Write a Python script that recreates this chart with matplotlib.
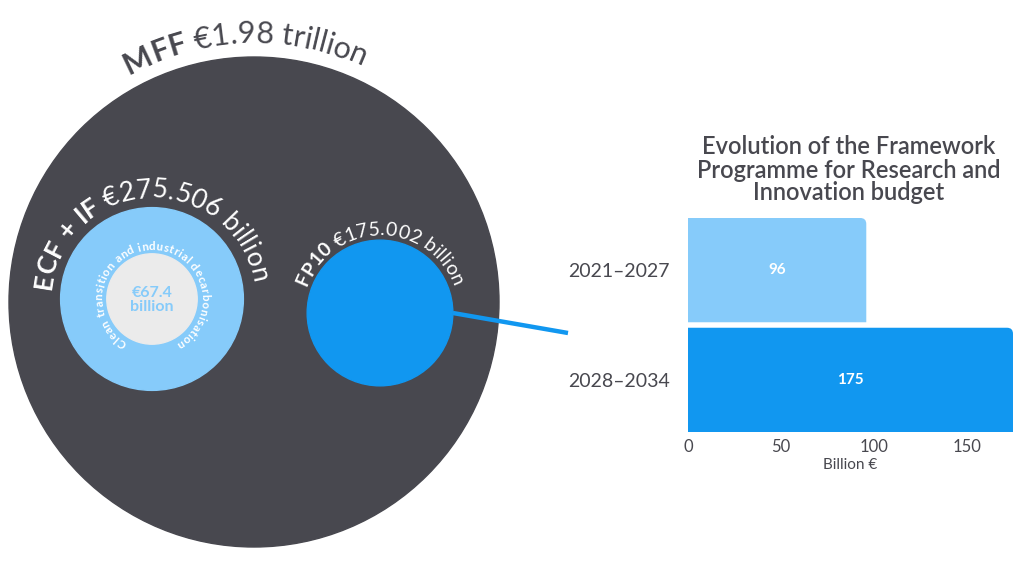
import numpy as np
import matplotlib
matplotlib.use('Agg')
import matplotlib.pyplot as plt
from matplotlib.patches import Circle, PathPatch
from matplotlib.path import Path

plt.rcParams['font.family'] = ['Lato', 'DejaVu Sans']

# budgets in billion €
mff_total = 1980.0
ecf_if = 275.506
fp10 = 175.002
clean_transition = 67.4

# framework programme evolution
periods = ['2021–2027', '2028–2034']
fp_budget = [96, 175]
x_ticks = [0, 50, 100, 150]

DARK = '#48484f'
LIGHT = '#86cbfa'
BLUE = '#1197f0'
GREY = '#ebebeb'

fig = plt.figure(figsize=(10.24, 5.72), dpi=100)
ax = fig.add_axes([0, 0, 1, 1])
ax.set_xlim(0, 1024)
ax.set_ylim(572, 0)
ax.axis('off')

renderer = fig.canvas.get_renderer()


def text_width(s, size, weight):
    t = ax.text(0, 0, s, fontsize=size, fontweight=weight)
    w = t.get_window_extent(renderer).width
    t.remove()
    return w


def char_width(c, size, weight):
    return text_width('x' + c + 'x', size, weight) - text_width('xx', size, weight)


def arc_text(cx, cy, r, parts, size, color, mid=90, spacing=0.0):
    # lay characters clockwise along a circle, centred on angle `mid`
    chars = []
    for s, weight in parts:
        for c in s:
            chars.append((c, weight, char_width(c, size, weight) + spacing))
    total = sum(w for _, _, w in chars)
    pos = np.deg2rad(mid) + total / 2 / r
    for c, weight, w in chars:
        th = pos - w / 2 / r
        ax.text(cx + r * np.cos(th), cy - r * np.sin(th), c, fontsize=size,
                fontweight=weight, color=color, rotation=np.rad2deg(th) - 90,
                rotation_mode='anchor', ha='center', va='baseline', zorder=5)
        pos -= w / r


# circles sized by area
R = 245


def radius(v):
    return R * np.sqrt(v / mff_total)


mff_c = (254, 302)
ecf_c = (152, 299)
fp_c = (380, 313)

ax.add_patch(Circle(mff_c, radius(mff_total), color=DARK, zorder=1))
ax.add_patch(Circle(ecf_c, radius(ecf_if), color=LIGHT, zorder=2))
ax.add_patch(Circle(ecf_c, radius(clean_transition), color=GREY, zorder=3))
ax.add_patch(Circle(fp_c, radius(fp10), color=BLUE, zorder=3))

# connector to bar chart
ax.plot([fp_c[0] + radius(fp10), 568], [fp_c[1], 333], color=BLUE, lw=3.2,
        solid_capstyle='butt', zorder=2)

arc_text(*mff_c, radius(mff_total) + 14,
         [('MFF ', 'bold'), ('€1.98 trillion', 'normal')], 22, DARK, mid=92)
arc_text(*ecf_c, radius(ecf_if) + 10,
         [('ECF + IF ', 'bold'), ('€275.506 billion', 'normal')], 19, 'white', mid=92)
arc_text(*fp_c, radius(fp10) + 5,
         [('FP10 ', 'bold'), ('€175.002 billion', 'normal')], 14, 'white', mid=90)
arc_text(*ecf_c, radius(clean_transition) + 4,
         [('Clean transition and industrial decarbonisation', 'bold')], 8.3, 'white',
         mid=89, spacing=0.4)

ax.text(ecf_c[0], ecf_c[1] + 1, '€67.4\nbillion', ha='center', va='center',
        fontsize=11.5, fontweight='bold', color=LIGHT, linespacing=1.0, zorder=5)

# bar chart
bx = fig.add_axes([688 / 1024, (572 - 432) / 572, 325 / 1024, 214 / 572])
bars = bx.barh(range(len(periods)), fp_budget, height=0.95, color=[LIGHT, BLUE])
bx.set_ylim(len(periods) - 0.525, -0.475)
bx.set_xlim(0, 175)
bx.bar_label(bars, label_type='center', color='white', fontweight='bold', fontsize=11)

# round the top-right corner of each bar
px_x = 175 / 325
px_y = (len(periods) - 0.05) / 214
for b in bars:
    x, y, w, h = b.get_x(), b.get_y(), b.get_width(), b.get_height()
    rx, ry = 6 * px_x, 6 * px_y
    verts = [(x, y + h), (x + w, y + h), (x + w, y + ry), (x + w, y),
             (x + w - rx, y), (x, y), (x, y + h)]
    codes = [Path.MOVETO, Path.LINETO, Path.LINETO, Path.CURVE3, Path.CURVE3,
             Path.LINETO, Path.CLOSEPOLY]
    bx.add_patch(PathPatch(Path(verts, codes), facecolor=b.get_facecolor(),
                           edgecolor='none'))
    b.set_visible(False)

bx.set_yticks(range(len(periods)))
bx.set_yticklabels(periods)
bx.set_xticks(x_ticks)
bx.tick_params(axis='y', length=0, pad=13, labelsize=14, labelcolor=DARK)
bx.tick_params(axis='x', length=0, pad=5, labelsize=12, labelcolor=DARK)
for sp in bx.spines.values():
    sp.set_visible(False)
bx.set_facecolor('none')
bx.set_xlabel('Billion €', fontsize=11, color=DARK, labelpad=2)

fig.text(849 / 1024, 1 - 170 / 572,
         'Evolution of the Framework\nProgramme for Research and\nInnovation budget',
         ha='center', va='center', fontsize=17, fontweight='semibold',
         color=DARK, linespacing=1.0)

fig.savefig('out.png', dpi=100, facecolor='white')
